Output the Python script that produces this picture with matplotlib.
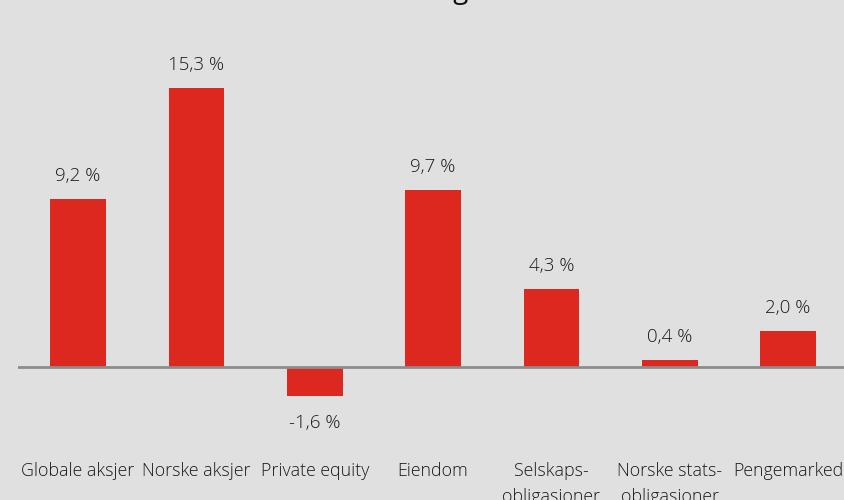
import numpy as np
import matplotlib.pyplot as plt

# Data
categories = ["Globale aksjer", "Norske aksjer", "Private equity", "Eiendom",
              "Selskaps-\nobligasjoner", "Norske stats-\nobligasjoner", "Pengemarked"]
values = [9.2, 15.3, -1.6, 9.7, 4.3, 0.4, 2.0]
title = "Avkastning"

bg = "#e0e0e0"
red = "#dc281e"
plt.rcParams['font.family'] = ['Open Sans', 'DejaVu Sans']

fig = plt.figure(figsize=(8.45, 5.0), dpi=100, facecolor=bg)
ax = fig.add_axes([18 / 845, 0, 1 - 18 / 845, 1])
ax.set_facecolor(bg)

x = np.arange(len(categories))
ax.bar(x, values, width=0.47, color=red, zorder=2)
ax.axhline(0, color="#8c8c8c", lw=2, zorder=3)

for xi, v in zip(x, values):
    lab = f"{v:.1f} %".replace(".", ",")
    if v >= 0:
        ax.annotate(lab, (xi, v), xytext=(0, 10), textcoords="offset points",
                    ha="center", va="bottom", fontsize=13.5, fontweight="light", color="#1a1a1a")
    else:
        ax.annotate(lab, (xi, v), xytext=(0, -13), textcoords="offset points",
                    ha="center", va="top", fontsize=13.5, fontweight="light", color="#1a1a1a")

# category labels below the plot
for xi, c in zip(x, categories):
    ax.text(xi, -5.2, c, ha="center", va="top", fontsize=12.8, fontweight="light",
            color="#1a1a1a", linespacing=1.55)

ax.set_xlim(-0.507, 6.48)
ax.set_ylim(-7.29, 20.12)
ax.axis("off")

# title, mostly cut off at the top edge
fig.text(0.471, 1.004, title, ha="center", va="baseline", fontsize=20, color="#111111")

fig.savefig("out.png", dpi=100, facecolor=bg)
